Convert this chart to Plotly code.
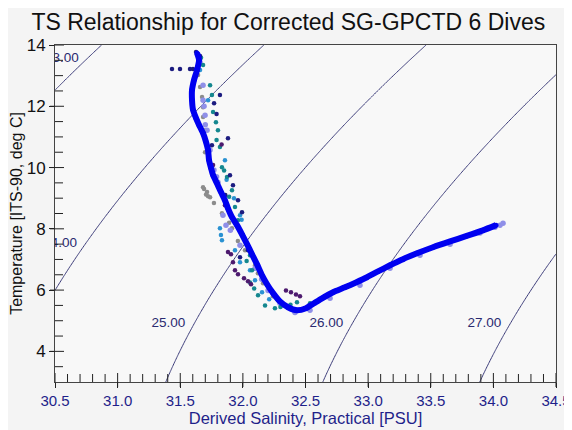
import numpy as np
import plotly.graph_objects as go

# ---------------- data ----------------
title_text = "TS Relationship for Corrected SG-GPCTD 6 Dives"
x_title = "Derived Salinity, Practical [PSU]"
y_title = "Temperature [ITS-90, deg C]"

x_range = [30.5, 34.5]
y_range = [3.0, 14.0]
x_tickvals = [30.5, 31.0, 31.5, 32.0, 32.5, 33.0, 33.5, 34.0, 34.5]
x_ticktext = ["30.5", "31.0", "31.5", "32.0", "32.5", "33.0", "33.5", "34.0", "34.5"]
x_minor_vals = [30.6, 30.7, 30.8, 30.9, 31.1, 31.2, 31.3, 31.4, 31.6, 31.7, 31.8, 31.9,
                32.1, 32.2, 32.3, 32.4, 32.6, 32.7, 32.8, 32.9, 33.1, 33.2, 33.3, 33.4,
                33.6, 33.7, 33.8, 33.9, 34.1, 34.2, 34.3, 34.4]
y_tickvals = [4, 6, 8, 10, 12, 14]
y_ticktext = ["4", "6", "8", "10", "12", "14"]
y_minor_vals = [3.5, 4.5, 5.0, 5.5, 6.5, 7.0, 7.5, 8.5, 9.0, 9.5, 10.5, 11.0, 11.5,
                12.5, 13.0, 13.5]

sigma_levels = [23.0, 24.0, 25.0, 26.0, 27.0]
sigma_label_T = [13.57, 7.53, 4.9, 4.9, 4.9]
sigma_label_text = ["23.00", "24.00", "25.00", "26.00", "27.00"]

grey_S = [31.642, 31.658, 31.674, 31.682, 31.682, 31.698, 31.698, 31.682, 31.714, 31.738,
          31.769, 31.833, 31.913, 32.017, 32.097, 32.161, 32.217, 32.280, 31.690, 31.706,
          31.722, 31.890, 31.960, 32.120, 32.240]
grey_T = [13.02, 12.63, 12.30, 11.97, 11.65, 11.22, 10.50, 9.36, 9.20, 9.03,
          8.84, 8.51, 8.02, 7.30, 6.81, 6.22, 5.99, 5.67, 9.30, 9.12,
          9.06, 8.20, 7.60, 6.55, 5.80]

lav_S = [31.658, 31.682, 31.682, 31.698, 31.714, 31.738, 31.769, 31.801, 31.841, 31.865,
         31.977, 32.097, 32.201, 32.296, 32.416, 32.536, 32.696, 32.935, 33.175, 33.414,
         33.654, 33.893, 34.013, 34.053, 34.077, 31.690, 31.700, 31.790, 31.900, 32.150]
lav_T = [13.44, 12.69, 12.20, 11.71, 11.22, 10.57, 9.92, 9.52, 8.44, 8.12,
         7.46, 6.71, 5.99, 5.57, 5.27, 5.34, 5.73, 6.16, 6.71, 7.14,
         7.50, 7.86, 8.05, 8.12, 8.18, 12.00, 11.40, 9.70, 7.95, 6.35]

sky_S = [31.658, 31.722, 31.857, 31.929, 31.977, 31.817, 31.833, 31.937, 31.977, 32.057,
         32.097, 32.153, 32.320, 31.825, 31.870, 31.990, 32.210]
sky_T = [13.18, 12.20, 10.24, 9.00, 8.44, 8.02, 7.63, 7.30, 6.91, 6.65,
         6.32, 5.93, 5.50, 7.80, 9.60, 8.30, 5.70]

teal_S = [31.666, 31.682, 31.738, 31.753, 31.762, 31.785, 31.801, 31.817, 31.833, 31.873,
          31.913, 31.937, 31.961, 32.001, 32.057, 32.073, 32.057, 32.121, 32.177, 32.256,
          32.432, 32.536, 31.790, 31.850, 31.890, 32.030, 32.090, 32.300, 32.380]
teal_T = [13.58, 13.35, 12.69, 12.37, 11.81, 11.48, 11.22, 10.67, 10.01, 9.69,
          9.26, 8.71, 8.28, 7.79, 7.14, 6.65, 6.25, 5.83, 5.50, 5.41,
          5.60, 5.57, 10.90, 9.90, 9.05, 6.95, 6.05, 5.45, 5.52]

purple_S = [31.881, 31.905, 31.921, 31.937, 31.961, 32.009, 32.041, 32.065, 32.344, 32.384,
            32.424, 32.456, 31.762, 31.857, 31.650, 31.830]
purple_T = [7.24, 7.17, 6.91, 6.65, 6.52, 6.39, 6.29, 6.19, 5.99, 5.93,
            5.86, 5.80, 10.08, 8.77, 13.55, 10.75]

navy_S = [31.626, 31.658, 31.434, 31.498, 31.578, 31.602, 31.634, 31.817, 31.881, 31.753,
          31.897, 31.921, 31.961, 31.993, 31.977, 32.041, 31.770, 31.790, 31.860]
navy_T = [13.77, 13.64, 13.22, 13.22, 13.22, 13.22, 13.18, 12.37, 10.96, 10.73,
          9.75, 9.42, 8.93, 8.54, 7.07, 7.30, 12.10, 11.75, 9.10]

blue_S = [31.634, 31.650, 31.634, 31.610, 31.594, 31.594, 31.602, 31.626, 31.650, 31.682,
          31.706, 31.722, 31.730, 31.746, 31.762, 31.793, 31.825, 31.857, 31.881, 31.913,
          31.953, 31.993, 32.033, 32.073, 32.113, 32.153, 32.193, 32.241, 32.296, 32.360,
          32.432, 32.504, 32.568, 32.632, 32.720, 32.815, 32.903, 32.991, 33.079, 33.175,
          33.278, 33.390, 33.518, 33.654, 33.781, 33.917, 34.021]
blue_T = [13.74, 13.51, 13.18, 12.86, 12.53, 12.20, 11.88, 11.61, 11.39, 11.12,
          10.83, 10.57, 10.24, 9.98, 9.75, 9.49, 9.20, 8.93, 8.67, 8.38,
          8.12, 7.82, 7.50, 7.17, 6.84, 6.48, 6.19, 5.90, 5.63, 5.44,
          5.34, 5.41, 5.57, 5.73, 5.93, 6.09, 6.25, 6.42, 6.61, 6.81,
          7.01, 7.20, 7.40, 7.59, 7.76, 7.95, 8.12]

# ---------------- density (sigma-t, UNESCO EOS-80 at p = 0) ----------------
def sigma_t(S, T):
    rho_w = (999.842594 + 6.793952e-2 * T - 9.095290e-3 * T**2 + 1.001685e-4 * T**3
             - 1.120083e-6 * T**4 + 6.536332e-9 * T**5)
    A = 8.24493e-1 - 4.0899e-3 * T + 7.6438e-5 * T**2 - 8.2467e-7 * T**3 + 5.3875e-9 * T**4
    B = -5.72466e-3 + 1.0227e-4 * T - 1.6546e-6 * T**2
    C = 4.8314e-4
    return rho_w + A * S + B * S**1.5 + C * S**2 - 1000.0

gS = np.linspace(x_range[0], x_range[1], 201)
gT = np.linspace(y_range[0], y_range[1], 221)
SS, TT = np.meshgrid(gS, gT)
Z = sigma_t(SS, TT)

# label positions: just left of each isopycnal at the given temperature
S_fine = np.linspace(29.0, 35.5, 6501)
lab_S = []
for lev, tl in zip(sigma_levels, sigma_label_T):
    sig = sigma_t(S_fine, tl)
    lab_S.append(float(np.interp(lev, sig, S_fine)) - 0.07)

NAVY_TXT = "#1f1f8a"
CONTOUR_C = "#3a3a78"
FONT = "Liberation Sans, Arial, sans-serif"
AX_C = "#444444"
TICK_C = "#222222"

# figure geometry (page body keeps its default 8px margin)
FIG_W, FIG_H = 564, 422
M_L, M_R, M_T, M_B = 47, 16, 37, 48
PLOT_W = FIG_W - M_L - M_R
PLOT_H = FIG_H - M_T - M_B

fig = go.Figure()

fig.add_trace(go.Contour(
    x=gS, y=gT, z=Z,
    contours=dict(start=sigma_levels[0], end=sigma_levels[-1], size=1, coloring="lines"),
    colorscale=[[0, CONTOUR_C], [1, CONTOUR_C]],
    line=dict(width=1),
    showscale=False, hoverinfo="skip",
))

fig.add_trace(go.Scatter(
    x=lab_S, y=sigma_label_T, mode="text", text=sigma_label_text,
    textposition="middle left",
    textfont=dict(family=FONT, size=13.5, color="#2a2a70"),
    cliponaxis=True, hoverinfo="skip", showlegend=False,
))

def dots(S, T, color, size=4.5, name=""):
    return go.Scatter(x=S, y=T, mode="markers", name=name,
                      marker=dict(color=color, size=size, line=dict(width=0)),
                      showlegend=False, cliponaxis=True)

fig.add_trace(dots(grey_S, grey_T, "#8c8c8c", name="grey"))
fig.add_trace(dots(lav_S, lav_T, "#8f8fe8", size=5.5, name="lavender"))
fig.add_trace(dots(sky_S, sky_T, "#2a92d2", name="sky"))
fig.add_trace(dots(teal_S, teal_T, "#14878f", name="teal"))
fig.add_trace(dots(purple_S, purple_T, "#4d1a6e", name="purple"))
fig.add_trace(dots(navy_S, navy_T, "#1c1c80", name="navy"))
fig.add_trace(go.Scatter(
    x=blue_S, y=blue_T, mode="lines+markers", name="blue",
    line=dict(color="#0000f0", width=6, shape="spline", smoothing=0.6),
    marker=dict(color="#0000f0", size=5),
    showlegend=False, cliponaxis=True,
))

# tick marks drawn at the tick values (major ones cross the axis, minor ones inside)
tick_line = dict(color=TICK_C, width=1)
for v in x_tickvals:
    fig.add_shape(type="line", xref="x", yref="y domain", x0=v, x1=v,
                  y0=-5 / PLOT_H, y1=9 / PLOT_H, line=tick_line)
for v in x_minor_vals:
    fig.add_shape(type="line", xref="x", yref="y domain", x0=v, x1=v,
                  y0=0, y1=8 / PLOT_H, line=tick_line)
for v in y_tickvals:
    fig.add_shape(type="line", xref="x domain", yref="y", y0=v, y1=v,
                  x0=-5 / PLOT_W, x1=9 / PLOT_W, line=tick_line)
for v in y_minor_vals:
    fig.add_shape(type="line", xref="x domain", yref="y", y0=v, y1=v,
                  x0=0, x1=8 / PLOT_W, line=tick_line)

fig.update_layout(
    width=FIG_W, height=FIG_H,
    margin=dict(l=M_L, r=M_R, t=M_T, b=M_B),
    paper_bgcolor="#f4f4f4",
    plot_bgcolor="#f8f8f8",
    showlegend=False,
    title=dict(text=title_text, x=0.497, xanchor="center", y=0.967, yanchor="middle",
               font=dict(family=FONT, size=23, color="#111111")),
    xaxis=dict(
        range=x_range, tickmode="array", tickvals=x_tickvals, ticktext=x_ticktext,
        ticks="outside", ticklen=5, tickcolor=TICK_C, tickwidth=1,
        showgrid=False, zeroline=False, automargin=False,
        showline=True, linecolor=AX_C, linewidth=1, mirror=True,
        tickfont=dict(family=FONT, size=15, color=NAVY_TXT),
        title=dict(text=x_title, font=dict(family=FONT, size=16.5, color=NAVY_TXT), standoff=4),
    ),
    yaxis=dict(
        range=y_range, tickmode="array", tickvals=y_tickvals, ticktext=y_ticktext,
        ticks="outside", ticklen=5, tickcolor=TICK_C, tickwidth=1,
        showgrid=False, zeroline=False, automargin=False,
        showline=True, linecolor=AX_C, linewidth=1, mirror=True,
        tickfont=dict(family=FONT, size=17, color="#111111"),
        title=dict(text=y_title, font=dict(family=FONT, size=16, color="#111111"), standoff=1),
    ),
)

fig.write_html("out.html", config={"displayModeBar": False})
